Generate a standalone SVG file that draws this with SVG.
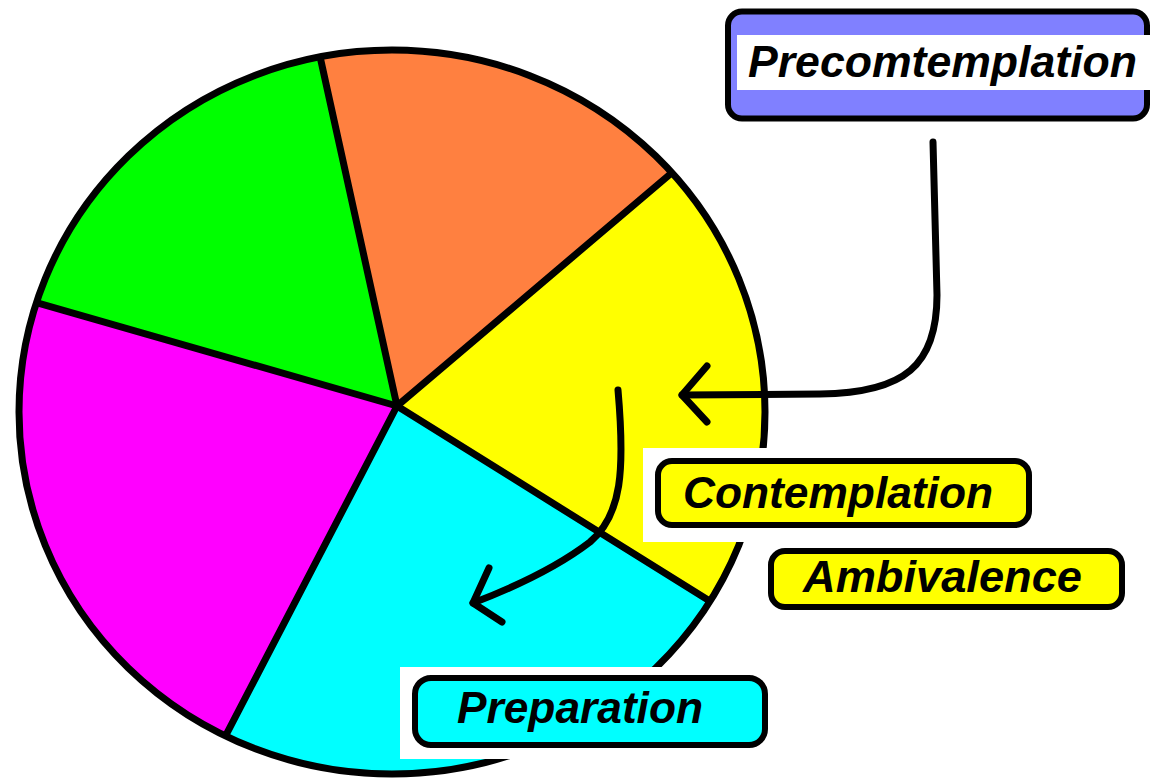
<svg xmlns="http://www.w3.org/2000/svg" width="1151" height="780" viewBox="0 0 1151 780">
  <style>
    .spoke { stroke: #000; stroke-width: 7; stroke-linecap: round; fill: none; }
    .rim { fill: none; stroke: #000; stroke-width: 7; }
    .link { fill: none; stroke: #000; stroke-width: 7; stroke-linecap: round; stroke-linejoin: round; }
    .box { stroke: #000; stroke-width: 6; }
    .label { font-family: "Liberation Sans", Arial, sans-serif; font-weight: bold; font-style: italic; font-size: 44px; fill: #000; }
  </style>
  <defs>
    <clipPath id="pieClip">
      <ellipse cx="392" cy="412" rx="373" ry="362"/>
    </clipPath>
  </defs>

  <rect width="1151" height="780" fill="#fff"/>

  <!-- pie chart: five sectors around (397,406) -->
  <g id="pie">
    <g clip-path="url(#pieClip)">
      <polygon points="397,406 297,-48 939,-54" fill="#ff8040"/>
      <polygon points="397,406 939,-54 1019,794" fill="#ffff00"/>
      <polygon points="397,406 1019,794 55,1064" fill="#00ffff"/>
      <polygon points="397,406 55,1064 -321,200" fill="#ff00ff"/>
      <polygon points="397,406 -321,200 297,-48" fill="#00ff00"/>
      <line class="spoke" x1="397" y1="406" x2="297" y2="-48"/>
      <line class="spoke" x1="397" y1="406" x2="939" y2="-54"/>
      <line class="spoke" x1="397" y1="406" x2="1019" y2="794"/>
      <line class="spoke" x1="397" y1="406" x2="55" y2="1064"/>
      <line class="spoke" x1="397" y1="406" x2="-321" y2="200"/>
    </g>
    <ellipse class="rim" cx="392" cy="412" rx="373" ry="362"/>
  </g>

  <!-- white backing behind the lower labels -->
  <rect x="643" y="448" width="220" height="94" fill="#fff"/>
  <rect x="400" y="667" width="380" height="92" fill="#fff"/>

  <!-- connectors -->
  <g id="connectors">
    <path class="link" d="M933,142 L937,295 C937,365 905,393 820,394 L682,395"/>
    <polyline class="link" points="707,366 682,395 707,422"/>
    <path class="link" d="M618,390 C625,470 622,515 590,542 C560,565 520,585 473,603"/>
    <polyline class="link" points="489,568 473,603 502,622"/>
  </g>

  <g id="precontemplation">
    <rect class="box" x="728" y="11.5" width="419" height="107" rx="14" fill="#8080ff"/>
    <rect x="737" y="35" width="414" height="55" fill="#fff"/>
    <text class="label" x="748" y="77" font-size="45" textLength="389" lengthAdjust="spacingAndGlyphs">Precomtemplation</text>
  </g>

  <g id="contemplation">
    <rect class="box" x="658" y="461" width="371" height="64" rx="14" fill="#ffff00"/>
    <text class="label" x="683" y="508" textLength="310" lengthAdjust="spacingAndGlyphs">Contemplation</text>
  </g>

  <g id="ambivalence">
    <rect class="box" x="771" y="551" width="351" height="56" rx="14" fill="#ffff00"/>
    <text class="label" x="803" y="592" textLength="279" lengthAdjust="spacingAndGlyphs">Ambivalence</text>
  </g>

  <g id="preparation">
    <rect class="box" x="415" y="678" width="350" height="67" rx="16" fill="#00ffff"/>
    <text class="label" x="457" y="723" textLength="246" lengthAdjust="spacingAndGlyphs">Preparation</text>
  </g>
</svg>
